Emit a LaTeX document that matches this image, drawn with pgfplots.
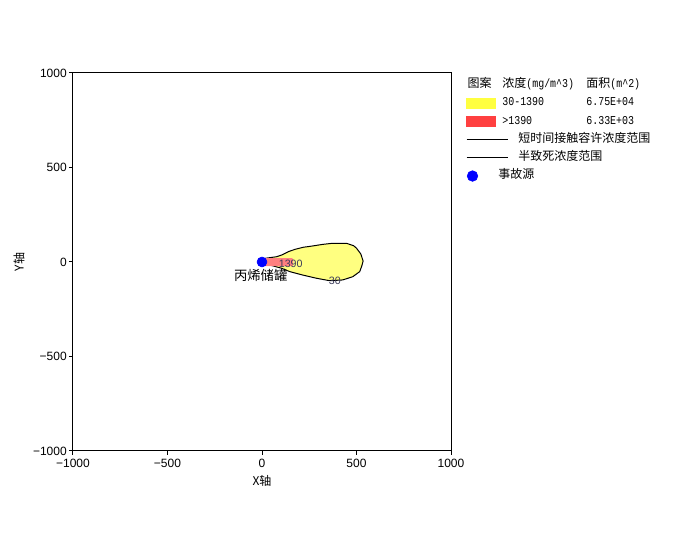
\documentclass[border=0pt]{standalone}
\usepackage{fontspec}
\setmainfont{Liberation Sans}
\newfontfamily\cjk{Noto Sans CJK SC}
\newfontfamily\mono[FakeStretch=0.83]{Liberation Mono}
\usepackage{pgfplots}
\pgfplotsset{compat=1.18}

\definecolor{plumeY}{RGB}{255,255,128}
\definecolor{plumeR}{RGB}{255,128,128}
\definecolor{legY}{RGB}{255,255,64}
\definecolor{legR}{RGB}{255,64,64}
\definecolor{lblc}{RGB}{60,60,90}
\newcommand\mn[1]{{\mono\fontsize{9}{10}\selectfont #1}}

\begin{document}
\begin{tikzpicture}
\path[use as bounding box] (0pt,0pt) rectangle (519.75pt,416.25pt);
\begin{axis}[
  at={(54.75pt,78pt)}, anchor=south west,
  scale only axis, width=283.5pt, height=283.5pt,
  xmin=-1000, xmax=1000, ymin=-1000, ymax=1000,
  xtick={-1000,-500,0,500,1000}, xticklabels={−1000,−500,0,500,1000},
  ytick={-1000,-500,0,500,1000}, yticklabels={−1000,−500,0,500,1000},
  tick align=outside, tick pos=left, major tick length=3pt,
  axis line style={line width=0.75pt}, tick style={black, line width=0.75pt},
  ticklabel style={font=\fontsize{9}{10}\selectfont},
  xticklabel style={inner ysep=3pt},
  yticklabel style={inner xsep=1.5pt},
  xlabel={\cjk X轴}, ylabel={\cjk Y轴},
  label style={font=\fontsize{9}{10}\selectfont},
  xlabel style={at={(axis description cs:0.5,-0.0794)}, anchor=center},
  ylabel style={at={(axis description cs:-0.1429,0.5)}, anchor=center},
  legend cell align=left,
  legend style={at={(axis description cs:1.0397,0.984)}, anchor=north west,
    draw=none, fill=none, inner sep=0pt, outer sep=0pt,
    row sep=4.65pt, column sep=0pt,
    nodes={inner sep=0pt, text height=6.5pt, text depth=2.5pt,
      font=\fontsize{9}{10}\selectfont}},
]

% 30 mg/m^3 contour (plume)
\addplot[forget plot, draw=black, line width=0.75pt, fill=plumeY] coordinates {
  (0,16) (20,20) (78,28) (104,37) (122,46) (140,55) (175,67) (219,78)
  (263,84) (320,93) (374,99) (447,99) (485,86) (500,73) (523,42) (535,5)
  (528,-21) (517,-51) (480,-78) (427,-95) (358,-99) (288,-86) (215,-69)
  (147,-51) (103,-33) (41,-16) (0,-14)
} -- cycle;

% 1390 mg/m^3 region
\addplot[forget plot, draw=none, fill=plumeR] coordinates {
  (0,20) (160,20) (165,10) (165,-14) (160,-22) (0,-22)
} -- cycle;

% source
\addplot[forget plot, only marks, mark=*, mark size=3.75pt, blue,
  mark options={draw=blue, fill=blue}] coordinates {(0,0)};

\node[font=\fontsize{8}{9}\selectfont, text=lblc, inner sep=0pt] at (axis cs:152,-8) {1390};
\node[font=\fontsize{8}{9}\selectfont, text=lblc, inner sep=0pt] at (axis cs:385,-99) {30};
\node[font=\cjk\fontsize{10}{11}\selectfont, inner sep=0pt] at (axis cs:-7,-71) {丙烯储罐};

% legend
\addlegendimage{legend image code/.code={\node[anchor=west, inner sep=0pt,
  font=\cjk\fontsize{9}{10}\selectfont] at (0.75pt,0pt) {图案};}}
\addlegendentry{\hspace*{-4.5pt}\makebox[63pt][l]{{\cjk 浓度}\mn{(mg/m\textasciicircum 3)}}{\cjk 面积}\mn{(m\textasciicircum 2)}}
\addlegendimage{legend image code/.code={\fill[legY] (0pt,-3.75pt) rectangle (21.75pt,3.75pt);}}
\addlegendentry{\hspace*{-4.5pt}\makebox[63pt][l]{\mn{30-1390}}\mn{6.75E+04}}
\addlegendimage{legend image code/.code={\fill[legR] (0pt,-3.75pt) rectangle (21.75pt,3.75pt);}}
\addlegendentry{\hspace*{-4.5pt}\makebox[63pt][l]{\mn{>1390}}\mn{6.33E+03}}
\addlegendimage{legend image code/.code={\draw[black, line width=0.75pt] (0pt,0pt) -- (31pt,0pt);}}
\addlegendentry{\hspace*{7.5pt}{\cjk 短时间接触容许浓度范围}}
\addlegendimage{legend image code/.code={\draw[black, line width=0.75pt] (0pt,0pt) -- (31pt,0pt);}}
\addlegendentry{\hspace*{7.5pt}{\cjk 半致死浓度范围}}
\addlegendimage{legend image code/.code={\fill[blue] (4.5pt,0pt) circle (4pt);}}
\addlegendentry{\hspace*{-7.5pt}{\cjk 事故源}}
\end{axis}
\end{tikzpicture}
\end{document}
